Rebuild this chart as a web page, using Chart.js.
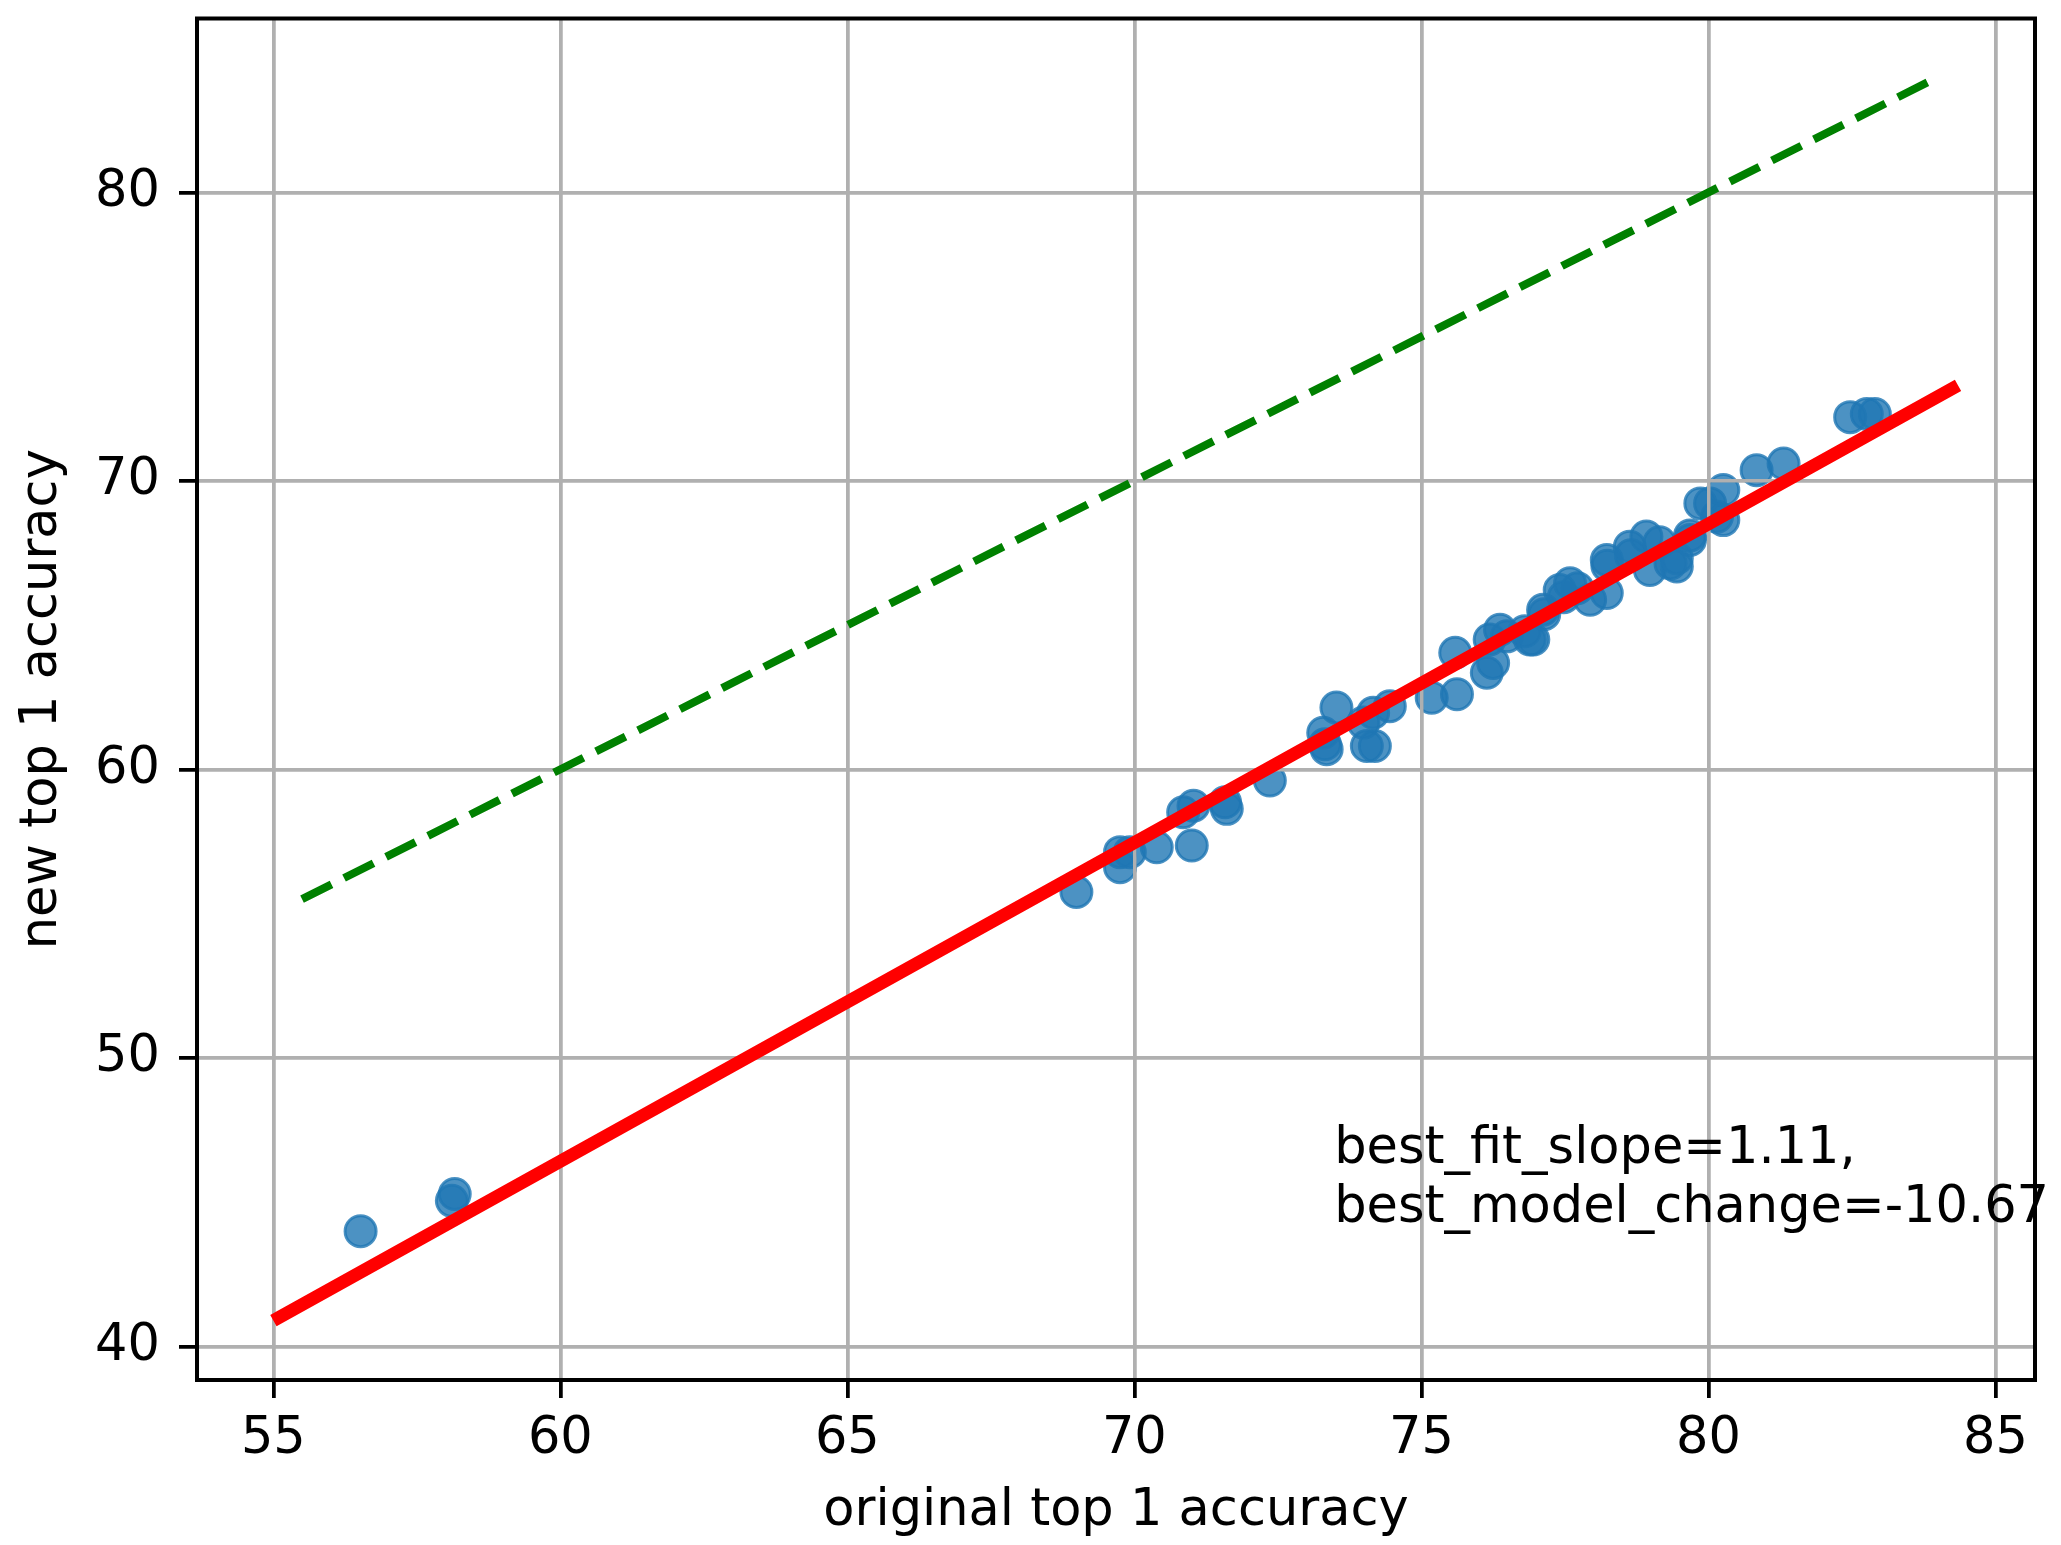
<!DOCTYPE html>
<html><head><meta charset="utf-8">
<script src="https://cdn.jsdelivr.net/npm/chart.js@4"></script>
<style>html,body{margin:0;padding:0;background:#fff;}#wrap{width:2061px;height:1545px;}</style>
</head><body><div id="wrap"><canvas id="c" width="2061" height="1545"></canvas></div>
<script>
// ---- data ----
const origAcc = [56.52, 58.11, 58.16, 68.99, 69.75, 69.75, 69.92, 70.39, 71.00, 70.85, 71.03, 71.58, 71.61, 72.36,
  73.29, 73.32, 73.35, 73.52, 73.99, 74.05, 74.16, 74.19, 74.45, 75.18, 75.59, 75.62, 76.14, 76.19, 76.25, 76.37,
  76.49, 76.80, 76.89, 76.95, 77.12, 77.14, 77.41, 77.48, 77.59, 77.72, 77.94, 78.23, 78.24, 78.23, 78.63, 78.65,
  78.92, 78.98, 79.15, 79.34, 79.45, 79.45, 79.68, 79.68, 79.86, 80.03, 80.15, 80.26, 80.26, 80.84, 81.31, 82.47,
  82.76, 82.90];
const newAcc = [43.99, 45.04, 45.28, 55.75, 57.13, 56.61, 57.13, 57.30, 57.36, 58.51, 58.74, 58.86, 58.63, 59.61,
  61.27, 60.87, 60.70, 62.14, 61.62, 60.81, 61.96, 60.81, 62.19, 62.48, 64.04, 62.60, 63.35, 64.50, 63.69, 64.84,
  64.61, 64.79, 64.50, 64.50, 65.53, 65.38, 66.22, 65.97, 66.45, 66.28, 65.88, 66.11, 67.06, 67.26, 67.72, 67.42,
  68.07, 66.91, 67.87, 67.14, 67.03, 67.32, 67.95, 68.11, 69.22, 69.22, 68.76, 69.68, 68.64, 70.37, 70.60, 72.21,
  72.32, 72.32];
const fitX = [55.1, 84.25];
const fitY = [41.0, 73.2];
const diagX = [55.5, 83.85];
const diagY = [55.5, 83.85];
const xTicks = [55, 60, 65, 70, 75, 80, 85];
const yTicks = [40, 50, 60, 70, 80];
const xRange = [53.67, 85.69];
const yRange = [38.83, 86.03];
const xLabel = 'original top 1 accuracy';
const yLabel = 'new top 1 accuracy';
const noteLines = ['best_fit_slope=1.11,', 'best_model_change=-10.67'];
const noteAt = [73.48, 46.36];

const FONT = 'DejaVu Sans';
const pts = (xs, ys) => xs.map((x, i) => ({x: x, y: ys[i]}));

const framePlugin = {
  id: 'framePlugin',
  afterDatasetDraw(chart, args) {
    if (args.index !== 2) return;           // grid above the scatter, below the lines
    chart.scales.x.drawGrid(chart.chartArea);
    chart.scales.y.drawGrid(chart.chartArea);
  },
  afterDraw(chart) {
    const ctx = chart.ctx, a = chart.chartArea;
    ctx.save();
    ctx.strokeStyle = '#000';
    ctx.lineWidth = 4;
    ctx.strokeRect(a.left, a.top, a.right - a.left, a.bottom - a.top);
    ctx.fillStyle = '#000';
    ctx.font = '51px "' + FONT + '"';
    ctx.textAlign = 'left';
    ctx.textBaseline = 'alphabetic';
    const px = chart.scales.x.getPixelForValue(noteAt[0]);
    const py = chart.scales.y.getPixelForValue(noteAt[1]);
    noteLines.forEach((t, i) => ctx.fillText(t, px, py + i * 59));
    ctx.restore();
  }
};

const tickFont = {family: FONT, size: 51, lineHeight: 1.2};

new Chart(document.getElementById('c'), {
  type: 'scatter',
  data: {
    datasets: [
      { label: 'fit', data: pts(fitX, fitY), showLine: true, borderColor: '#ff0000', borderWidth: 13,
        borderCapStyle: 'square', pointRadius: 0, fill: false },
      { label: 'y=x', data: pts(diagX, diagY), showLine: true, borderColor: '#008000', borderWidth: 8,
        borderDash: [33, 14], pointRadius: 0, fill: false },
      { label: 'models', data: pts(origAcc, newAcc), showLine: false,
        backgroundColor: 'rgba(31,119,180,0.8)', borderColor: 'rgba(31,119,180,0.8)',
        borderWidth: 3, pointRadius: 15.5, pointHoverRadius: 15.5 }
    ]
  },
  options: {
    responsive: false, devicePixelRatio: 1, animation: false, events: [],
    layout: { padding: { top: 10, right: 26, left: 0, bottom: 0 } },
    plugins: { legend: { display: false }, tooltip: { enabled: false } },
    scales: {
      x: {
        type: 'linear', position: 'bottom', min: xRange[0], max: xRange[1], bounds: 'data',
        afterBuildTicks: s => { s.ticks = xTicks.map(v => ({value: v})); },
        afterFit: s => { s.height = 165; s.paddingLeft = 0; s.paddingRight = 0; s.paddingTop = 0; s.paddingBottom = 0; },
        grid: { color: '#b0b0b0', lineWidth: 3.5, tickColor: '#000', tickWidth: 3.5, tickLength: 18, drawTicks: true },
        border: { display: false },
        ticks: { color: '#000', font: tickFont, padding: 11, maxRotation: 0, autoSkip: false, callback: v => String(v) },
        title: { display: true, text: xLabel, color: '#000', font: tickFont, padding: { top: 0, bottom: 3 } }
      },
      y: {
        type: 'linear', position: 'left', min: yRange[0], max: yRange[1], bounds: 'data',
        afterBuildTicks: s => { s.ticks = yTicks.map(v => ({value: v})); },
        afterFit: s => { s.width = 197; s.paddingLeft = 0; s.paddingRight = 0; s.paddingTop = 0; s.paddingBottom = 0; },
        grid: { color: '#b0b0b0', lineWidth: 3.5, tickColor: '#000', tickWidth: 3.5, tickLength: 18, drawTicks: true },
        border: { display: false },
        ticks: { color: '#000', font: tickFont, padding: 19, autoSkip: false, callback: v => String(v) },
        title: { display: true, text: yLabel, color: '#000', font: tickFont, padding: { top: 12, bottom: 0 } }
      }
    }
  },
  plugins: [framePlugin]
});
</script>
</body></html>
